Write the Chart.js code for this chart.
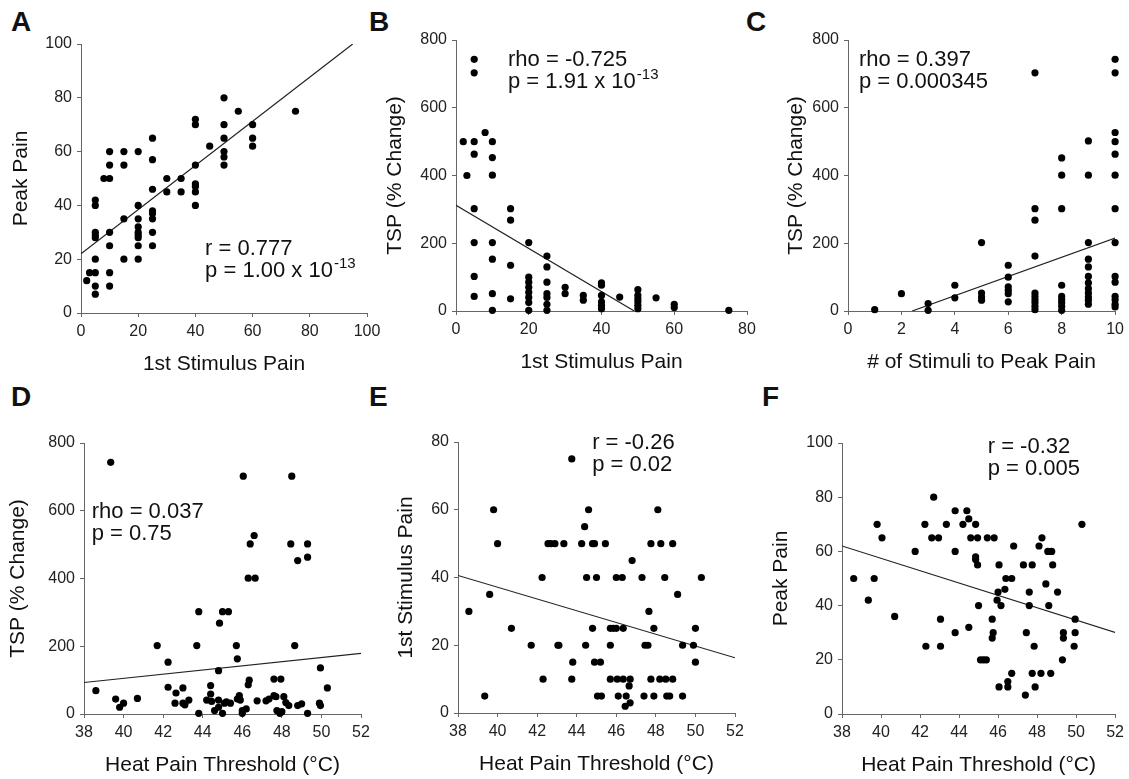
<!DOCTYPE html>
<html>
<head>
<meta charset="utf-8">
<script src="https://cdn.jsdelivr.net/npm/chart.js@4.4.0/dist/chart.umd.min.js"></script>
<style>
  body { margin: 0; background: #fff; width: 1129px; height: 779px; position: relative; overflow: hidden;
         font-family: 'Liberation Sans', Arial, sans-serif; }
  canvas { position: absolute; }
  .letter { position: absolute; font-weight: bold; font-size: 28px; line-height: 1; color: #111; }
</style>
</head>
<body>
<div class="letter" style="left:11px;top:8px">A</div>
<div class="letter" style="left:369px;top:8px">B</div>
<div class="letter" style="left:746px;top:8px">C</div>
<div class="letter" style="left:11px;top:383px">D</div>
<div class="letter" style="left:369px;top:383px">E</div>
<div class="letter" style="left:762px;top:383px">F</div>

<script>
// A: 1st stimulus pain vs peak pain
const aX = [2,3,5,5,5,5,5,5,5,5,5,8,10,10,10,10,10,10,10,15,15,15,15,20,20,20,20,20,20,20,20,20,25,25,25,25,25,25,25,25,30,30,35,35,40,40,40,40,40,40,40,45,50,50,50,50,50,50,55,60,60,60,75];
const aY = [12,15,15,20,10,7,42,40,30,29,28,50,50,60,55,30,25,15,10,60,55,35,20,60,40,35,32,30,29,28,25,20,65,57,46,38,37,35,30,25,50,45,50,45,72,70,55,48,47,45,40,62,80,70,65,60,58,55,75,70,65,62,75];
const fitAX = [0, 95];
const fitAY = [22, 100];

// B: 1st stimulus pain vs TSP
const bX = [2,3,5,5,5,5,5,5,5,5,8,10,10,10,10,10,10,10,15,15,15,15,20,20,20,20,20,20,20,20,25,25,25,25,25,25,25,30,30,35,35,40,40,40,40,40,40,45,50,50,50,50,50,50,55,60,60,75];
const bY = [500,400,743,703,500,463,302,202,102,43,527,500,453,401,202,153,51,2,302,268,135,36,202,100,85,70,55,40,25,2,162,130,85,51,40,20,2,70,51,46,32,83,76,46,27,17,7,41,63,46,36,27,17,7,39,20,10,2];
const fitBX = [0, 49];
const fitBY = [312, 0];

// C: # of stimuli to peak pain vs TSP
const cX = [1,2,3,3,4,4,5,5,5,5,6,6,6,6,6,6,7,7,7,7,7,7,7,7,7,7,8,8,8,8,8,8,8,8,8,9,9,9,9,9,9,9,9,9,9,9,9,10,10,10,10,10,10,10,10,10,10,10,10,10,10];
const cY = [4,51,22,2,76,39,202,53,41,32,135,100,71,61,51,27,703,302,268,162,53,43,33,24,14,4,452,401,302,76,43,33,24,14,2,502,401,202,153,130,102,83,66,53,41,32,20,743,703,527,500,463,401,302,202,102,85,43,33,20,12];
const fitCX = [2.4, 10];
const fitCY = [0, 215];

// D: heat pain threshold vs TSP
const dX = [38.6,39.35,39.6,39.8,40.0,40.7,41.7,42.25,42.25,42.6,42.65,43.0,43.0,43.1,43.3,43.7,43.8,43.8,44.2,44.4,44.4,44.45,44.6,44.8,44.8,44.8,44.85,45.0,45.1,45.0,45.3,45.2,45.4,45.7,45.75,45.75,45.85,45.9,46.0,46.0,46.05,46.2,46.3,46.35,46.4,46.3,46.65,46.6,46.75,47.2,47.6,47.95,47.35,47.6,47.7,47.75,47.9,48.0,48.1,48.2,48.35,48.5,48.45,48.65,48.8,48.8,49.0,49.3,49.3,49.3,49.9,49.95,49.95,50.3];
const dY = [69,743,44,20,32,46,202,153,79,32,62,32,77,27,41,202,302,2,41,59,84,37,10,20,128,41,268,302,32,2,302,36,32,202,163,44,54,41,10,2,702,15,86,100,502,401,401,527,39,39,103,103,44,54,51,10,2,7,51,34,25,702,502,202,453,25,30,2,502,463,32,25,136,77];
const fitDX = [38, 52];
const fitDY = [93, 179];

// E: heat pain threshold vs 1st stimulus pain
const eX = [38.55,39.35,39.6,39.8,40.0,40.7,41.7,42.25,42.3,42.55,42.7,42.9,43.35,43.05,43.1,43.75,43.8,43.75,44.25,44.4,44.6,44.45,44.5,44.8,44.9,44.8,44.9,45.2,45.0,45.05,45.25,45.45,45.7,45.7,45.85,46.0,45.7,46.0,46.05,46.1,46.3,46.35,46.35,46.5,46.45,46.65,46.7,46.7,46.8,47.3,47.4,47.45,47.6,47.65,47.75,47.75,47.9,47.9,48.1,48.2,48.25,48.45,48.5,48.85,48.55,48.7,48.85,49.1,49.35,49.35,49.9,50.0,50.0,50.3];
const eY = [30,5,35,60,50,25,20,40,10,50,50,50,50,20,20,75,15,10,50,55,60,20,40,50,50,25,15,15,40,5,5,50,20,25,25,25,10,40,10,5,40,25,10,5,2,8,3,10,45,40,5,20,20,30,50,10,25,5,60,10,50,40,10,10,5,5,50,35,20,5,20,25,15,40];
const fitEX = [38, 52];
const fitEY = [40.6, 16.3];

// F: heat pain threshold vs peak pain
const fX = [38.6,39.35,39.65,39.8,40.05,40.7,41.75,42.25,42.3,42.6,42.7,42.95,43.05,43.05,43.35,43.8,43.8,43.8,44.2,44.4,44.5,44.5,44.6,44.85,44.85,44.85,44.95,44.95,45.0,45.1,45.25,45.4,45.45,45.8,45.7,45.75,45.7,45.95,46.0,46.05,46.05,46.15,46.35,46.4,46.5,46.5,46.7,46.7,46.8,47.3,47.4,47.45,47.6,47.6,47.75,47.75,47.85,47.9,48.1,48.25,48.2,48.45,48.55,48.75,48.6,48.7,48.8,49.05,49.35,49.35,49.3,49.9,49.95,49.95,50.3];
const fY = [50,42,50,70,65,36,60,70,25,65,80,65,35,25,70,30,75,60,70,75,72,32,65,70,58,57,65,55,40,20,20,20,65,65,35,30,28,42,45,55,10,40,46,50,12,10,15,50,62,55,7,30,45,40,55,15,25,10,62,65,15,48,60,60,40,15,55,45,30,28,20,25,35,30,70];
const fitFX = [38, 52];
const fitFY = [62, 30.1];

// axis titles and stats text
const titlesX = ['1st Stimulus Pain', '1st Stimulus Pain', '# of Stimuli to Peak Pain',
                 'Heat Pain Threshold (°C)', 'Heat Pain Threshold (°C)', 'Heat Pain Threshold (°C)'];
const titlesY = ['Peak Pain', 'TSP (% Change)', 'TSP (% Change)', 'TSP (% Change)', '1st Stimulus Pain', 'Peak Pain'];
const statsText = [
  [['r = 0.777'], ['p = 1.00 x 10', '-13']],
  [['rho = -0.725'], ['p = 1.91 x 10', '-13']],
  [['rho = 0.397'], ['p = 0.000345']],
  [['rho = 0.037'], ['p = 0.75']],
  [['r = -0.26'], ['p = 0.02']],
  [['r = -0.32'], ['p = 0.005']]
];

const FONT = "'Liberation Sans', Arial, sans-serif";
Chart.defaults.font.family = FONT;

// draws the r / p text block, anchored in data units
const statPlugin = {
  id: 'stat',
  afterDatasetsDraw(chart, args, opts) {
    const ctx = chart.ctx;
    const px = chart.scales.x.getPixelForValue(opts.x);
    const py = chart.scales.y.getPixelForValue(opts.y);
    ctx.save();
    ctx.fillStyle = '#111';
    ctx.textBaseline = 'middle';
    ctx.textAlign = 'left';
    opts.lines.forEach((ln, i) => {
      const yy = py + i * 22;
      ctx.font = '22px ' + FONT;
      ctx.fillText(ln[0], px, yy);
      if (ln[1]) {
        const w = ctx.measureText(ln[0]).width;
        ctx.font = '15px ' + FONT;
        ctx.fillText(ln[1], px + w + 1, yy - 7);
      }
    });
    ctx.restore();
  }
};

// panel geometry: axis box in page pixels (L, R, T, B), y-scale width
const panels = [
  { xs: aX, ys: aY, fx: fitAX, fy: fitAY, xr: [0, 100, 20], yr: [0, 100, 20], box: [81, 367, 44, 313], yw: 72, padR: 20, st: [43.4, 23.9] },
  { xs: bX, ys: bY, fx: fitBX, fy: fitBY, xr: [0, 80, 20], yr: [0, 800, 200], box: [456, 747, 40, 311], yw: 73, padR: 20, st: [14.3, 741] },
  { xs: cX, ys: cY, fx: fitCX, fy: fitCY, xr: [0, 10, 2], yr: [0, 800, 200], box: [848, 1118, 40, 311], yw: 64, padR: 11, st: [0.41, 741] },
  { xs: dX, ys: dY, fx: fitDX, fy: fitDY, xr: [38, 52, 2], yr: [0, 800, 200], box: [84, 361, 443, 714], yw: 78, padR: 20, st: [38.39, 596] },
  { xs: eX, ys: eY, fx: fitEX, fy: fitEY, xr: [38, 52, 2], yr: [0, 80, 20], box: [458, 735, 442, 713], yw: 64, padR: 20, st: [44.78, 79.7] },
  { xs: fX, ys: fY, fx: fitFX, fy: fitFY, xr: [38, 52, 2], yr: [0, 100, 20], box: [842, 1118, 443, 714], yw: 73, padR: 11, st: [45.47, 98.7] }
];

const padT = 15, xh = 64;

panels.forEach((p, idx) => {
  const [L, R, T, B] = p.box;
  const canvas = document.createElement('canvas');
  const w = p.yw + (R - L) + p.padR;
  const h = padT + (B - T) + xh;
  canvas.width = w; canvas.height = h;
  canvas.style.left = (L - p.yw) + 'px';
  canvas.style.top = (T - padT) + 'px';
  canvas.style.width = w + 'px';
  canvas.style.height = h + 'px';
  document.body.appendChild(canvas);

  const axisCommon = {
    type: 'linear',
    grid: { drawOnChartArea: false, drawTicks: true, tickLength: 4, color: '#666' },
    border: { display: true, color: '#666', width: 1 },
  };

  new Chart(canvas, {
    type: 'scatter',
    data: {
      datasets: [
        {
          data: p.xs.map((x, i) => ({ x: x, y: p.ys[i] })),
          backgroundColor: '#000',
          borderWidth: 0,
          pointRadius: 3.6,
          clip: false
        },
        {
          type: 'line',
          data: p.fx.map((x, i) => ({ x: x, y: p.fy[i] })),
          borderColor: '#222',
          borderWidth: 1.2,
          pointRadius: 0,
          fill: false
        }
      ]
    },
    options: {
      responsive: false,
      animation: false,
      layout: { padding: { top: padT, right: p.padR, left: 0, bottom: 0 } },
      plugins: {
        legend: { display: false },
        tooltip: { enabled: false },
        stat: { x: p.st[0], y: p.st[1], lines: statsText[idx] }
      },
      scales: {
        x: {
          ...axisCommon,
          min: p.xr[0], max: p.xr[1],
          ticks: { stepSize: p.xr[2], color: '#222', font: { size: 16 }, padding: 5, maxRotation: 0, autoSkip: false },
          title: { display: true, text: titlesX[idx], color: '#111', font: { size: 21 }, padding: 0 },
          afterFit(s) { s.height = xh; }
        },
        y: {
          ...axisCommon,
          min: p.yr[0], max: p.yr[1],
          ticks: { stepSize: p.yr[2], color: '#222', font: { size: 16 }, padding: 5, autoSkip: false },
          title: { display: true, text: titlesY[idx], color: '#111', font: { size: 21 }, padding: 0 },
          afterFit(s) { s.width = p.yw; }
        }
      }
    },
    plugins: [statPlugin]
  });
});
</script>
</body>
</html>
